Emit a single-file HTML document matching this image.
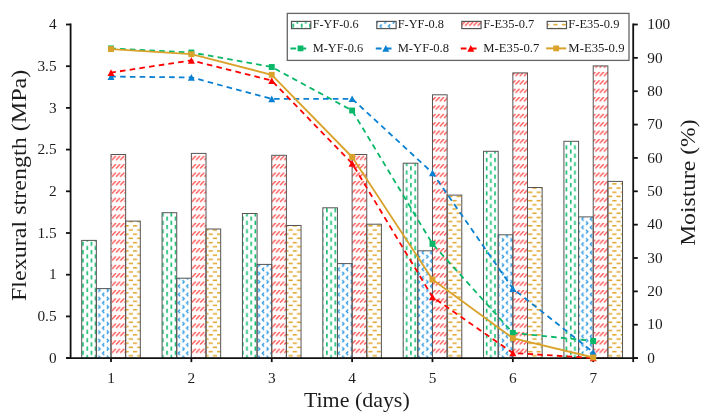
<!DOCTYPE html><html><head><meta charset="utf-8"><style>html,body{margin:0;padding:0;background:#fff;}svg{display:block;will-change:transform;} text{font-family:"Liberation Serif",serif;fill:#1c1c1c;}</style></head><body>
<svg width="711" height="418" viewBox="0 0 711 418">
<defs>
<pattern id="pg" patternUnits="userSpaceOnUse" width="8.409" height="8.386" x="6.519" y="6.896"><rect x="0" y="0" width="1.6" height="4.193" fill="#10BC70"/><rect x="4.205" y="4.193" width="1.6" height="4.193" fill="#10BC70"/></pattern>
<pattern id="pb" patternUnits="userSpaceOnUse" width="8.409" height="8.386" x="0.427" y="7.268"><path d="M2.95 0.35 L1.25 2.10 L2.95 3.85" stroke="#2C98E2" stroke-width="1.35" fill="none"/><path d="M5.46 4.54 L7.16 6.29 L5.46 8.04" stroke="#2C98E2" stroke-width="1.35" fill="none"/></pattern>
<pattern id="pr" patternUnits="userSpaceOnUse" width="4.205" height="8.386" x="2.532" y="4.824"><path d="M0 4.193 L4.205 0 M-4.205 4.193 L0 0 M4.205 4.193 L8.409 0" stroke="#FF5050" stroke-width="1.45" fill="none"/></pattern>
<pattern id="po" patternUnits="userSpaceOnUse" width="8.409" height="8.386" x="6.821" y="7.026"><rect x="0" y="0" width="4.205" height="1.5" fill="#E0A52A"/><rect x="4.205" y="4.193" width="4.205" height="1.5" fill="#E0A52A"/></pattern>
</defs>
<rect x="81.70" y="240.40" width="14.65" height="117.70" fill="url(#pg)" stroke="#555555" stroke-width="1.0"/>
<rect x="96.35" y="288.60" width="14.65" height="69.50" fill="url(#pb)" stroke="#555555" stroke-width="1.0"/>
<rect x="111.00" y="154.50" width="14.65" height="203.60" fill="url(#pr)" stroke="#555555" stroke-width="1.0"/>
<rect x="125.65" y="221.10" width="14.65" height="137.00" fill="url(#po)" stroke="#555555" stroke-width="1.0"/>
<rect x="162.07" y="212.70" width="14.65" height="145.40" fill="url(#pg)" stroke="#555555" stroke-width="1.0"/>
<rect x="176.72" y="278.20" width="14.65" height="79.90" fill="url(#pb)" stroke="#555555" stroke-width="1.0"/>
<rect x="191.37" y="153.40" width="14.65" height="204.70" fill="url(#pr)" stroke="#555555" stroke-width="1.0"/>
<rect x="206.02" y="229.00" width="14.65" height="129.10" fill="url(#po)" stroke="#555555" stroke-width="1.0"/>
<rect x="242.44" y="213.50" width="14.65" height="144.60" fill="url(#pg)" stroke="#555555" stroke-width="1.0"/>
<rect x="257.09" y="264.40" width="14.65" height="93.70" fill="url(#pb)" stroke="#555555" stroke-width="1.0"/>
<rect x="271.74" y="155.30" width="14.65" height="202.80" fill="url(#pr)" stroke="#555555" stroke-width="1.0"/>
<rect x="286.39" y="225.50" width="14.65" height="132.60" fill="url(#po)" stroke="#555555" stroke-width="1.0"/>
<rect x="322.81" y="207.80" width="14.65" height="150.30" fill="url(#pg)" stroke="#555555" stroke-width="1.0"/>
<rect x="337.46" y="263.60" width="14.65" height="94.50" fill="url(#pb)" stroke="#555555" stroke-width="1.0"/>
<rect x="352.11" y="154.50" width="14.65" height="203.60" fill="url(#pr)" stroke="#555555" stroke-width="1.0"/>
<rect x="366.76" y="224.20" width="14.65" height="133.90" fill="url(#po)" stroke="#555555" stroke-width="1.0"/>
<rect x="403.18" y="163.20" width="14.65" height="194.90" fill="url(#pg)" stroke="#555555" stroke-width="1.0"/>
<rect x="417.83" y="250.80" width="14.65" height="107.30" fill="url(#pb)" stroke="#555555" stroke-width="1.0"/>
<rect x="432.48" y="94.80" width="14.65" height="263.30" fill="url(#pr)" stroke="#555555" stroke-width="1.0"/>
<rect x="447.13" y="195.10" width="14.65" height="163.00" fill="url(#po)" stroke="#555555" stroke-width="1.0"/>
<rect x="483.55" y="151.30" width="14.65" height="206.80" fill="url(#pg)" stroke="#555555" stroke-width="1.0"/>
<rect x="498.20" y="234.80" width="14.65" height="123.30" fill="url(#pb)" stroke="#555555" stroke-width="1.0"/>
<rect x="512.85" y="72.90" width="14.65" height="285.20" fill="url(#pr)" stroke="#555555" stroke-width="1.0"/>
<rect x="527.50" y="187.50" width="14.65" height="170.60" fill="url(#po)" stroke="#555555" stroke-width="1.0"/>
<rect x="563.92" y="141.30" width="14.65" height="216.80" fill="url(#pg)" stroke="#555555" stroke-width="1.0"/>
<rect x="578.57" y="216.90" width="14.65" height="141.20" fill="url(#pb)" stroke="#555555" stroke-width="1.0"/>
<rect x="593.22" y="65.90" width="14.65" height="292.20" fill="url(#pr)" stroke="#555555" stroke-width="1.0"/>
<rect x="607.87" y="181.40" width="14.65" height="176.70" fill="url(#po)" stroke="#555555" stroke-width="1.0"/>
<g stroke="#111" stroke-width="1.8" fill="none">
<line x1="70.6" y1="23.6" x2="70.6" y2="358.1"/>
<line x1="633.2" y1="23.6" x2="633.2" y2="358.1"/>
<line x1="66.0" y1="358.1" x2="637.8000000000001" y2="358.1"/>
<line x1="66.0" y1="358.10" x2="70.6" y2="358.10"/>
<line x1="66.0" y1="316.40" x2="70.6" y2="316.40"/>
<line x1="66.0" y1="274.70" x2="70.6" y2="274.70"/>
<line x1="66.0" y1="233.00" x2="70.6" y2="233.00"/>
<line x1="66.0" y1="191.30" x2="70.6" y2="191.30"/>
<line x1="66.0" y1="149.60" x2="70.6" y2="149.60"/>
<line x1="66.0" y1="107.90" x2="70.6" y2="107.90"/>
<line x1="66.0" y1="66.20" x2="70.6" y2="66.20"/>
<line x1="66.0" y1="24.50" x2="70.6" y2="24.50"/>
<line x1="633.2" y1="358.10" x2="637.8000000000001" y2="358.10"/>
<line x1="633.2" y1="324.74" x2="637.8000000000001" y2="324.74"/>
<line x1="633.2" y1="291.38" x2="637.8000000000001" y2="291.38"/>
<line x1="633.2" y1="258.02" x2="637.8000000000001" y2="258.02"/>
<line x1="633.2" y1="224.66" x2="637.8000000000001" y2="224.66"/>
<line x1="633.2" y1="191.30" x2="637.8000000000001" y2="191.30"/>
<line x1="633.2" y1="157.94" x2="637.8000000000001" y2="157.94"/>
<line x1="633.2" y1="124.58" x2="637.8000000000001" y2="124.58"/>
<line x1="633.2" y1="91.22" x2="637.8000000000001" y2="91.22"/>
<line x1="633.2" y1="57.86" x2="637.8000000000001" y2="57.86"/>
<line x1="633.2" y1="24.50" x2="637.8000000000001" y2="24.50"/>
<line x1="111.00" y1="358.1" x2="111.00" y2="362.1"/>
<line x1="191.37" y1="358.1" x2="191.37" y2="362.1"/>
<line x1="271.74" y1="358.1" x2="271.74" y2="362.1"/>
<line x1="352.11" y1="358.1" x2="352.11" y2="362.1"/>
<line x1="432.48" y1="358.1" x2="432.48" y2="362.1"/>
<line x1="512.85" y1="358.1" x2="512.85" y2="362.1"/>
<line x1="593.22" y1="358.1" x2="593.22" y2="362.1"/>
<line x1="633.2" y1="358.1" x2="633.2" y2="362.1"/>
</g>
<polyline points="111.00,48.40 191.37,52.50 271.74,67.00 352.11,110.50 432.48,243.90 512.85,332.90 593.22,341.00" fill="none" stroke="#08B868" stroke-width="1.8" stroke-linejoin="round" stroke-dasharray="5.6 4.2" stroke-dashoffset="0.72"/>
<rect x="108.05" y="45.45" width="5.9" height="5.9" fill="#08B868"/>
<rect x="188.42" y="49.55" width="5.9" height="5.9" fill="#08B868"/>
<rect x="268.79" y="64.05" width="5.9" height="5.9" fill="#08B868"/>
<rect x="349.16" y="107.55" width="5.9" height="5.9" fill="#08B868"/>
<rect x="429.53" y="240.95" width="5.9" height="5.9" fill="#08B868"/>
<rect x="509.90" y="329.95" width="5.9" height="5.9" fill="#08B868"/>
<rect x="590.27" y="338.05" width="5.9" height="5.9" fill="#08B868"/>
<polyline points="111.00,76.60 191.37,77.40 271.74,98.90 352.11,98.80 432.48,172.90 512.85,288.60 593.22,352.20" fill="none" stroke="#0A80D2" stroke-width="1.8" stroke-linejoin="round" stroke-dasharray="5.6 4.2" stroke-dashoffset="0.72"/>
<path d="M111.00 73.30 L114.50 79.90 L107.50 79.90Z" fill="#0A80D2"/>
<path d="M191.37 74.10 L194.87 80.70 L187.87 80.70Z" fill="#0A80D2"/>
<path d="M271.74 95.60 L275.24 102.20 L268.24 102.20Z" fill="#0A80D2"/>
<path d="M352.11 95.50 L355.61 102.10 L348.61 102.10Z" fill="#0A80D2"/>
<path d="M432.48 169.60 L435.98 176.20 L428.98 176.20Z" fill="#0A80D2"/>
<path d="M512.85 285.30 L516.35 291.90 L509.35 291.90Z" fill="#0A80D2"/>
<path d="M593.22 348.90 L596.72 355.50 L589.72 355.50Z" fill="#0A80D2"/>
<polyline points="111.00,72.60 191.37,60.40 271.74,80.60 352.11,163.40 432.48,297.00 512.85,353.00 593.22,358.00" fill="none" stroke="#FF0000" stroke-width="1.8" stroke-linejoin="round" stroke-dasharray="5.6 4.2" stroke-dashoffset="0.72"/>
<path d="M111.00 69.30 L114.50 75.90 L107.50 75.90Z" fill="#FF0000"/>
<path d="M191.37 57.10 L194.87 63.70 L187.87 63.70Z" fill="#FF0000"/>
<path d="M271.74 77.30 L275.24 83.90 L268.24 83.90Z" fill="#FF0000"/>
<path d="M352.11 160.10 L355.61 166.70 L348.61 166.70Z" fill="#FF0000"/>
<path d="M432.48 293.70 L435.98 300.30 L428.98 300.30Z" fill="#FF0000"/>
<path d="M512.85 349.70 L516.35 356.30 L509.35 356.30Z" fill="#FF0000"/>
<path d="M593.22 354.70 L596.72 361.30 L589.72 361.30Z" fill="#FF0000"/>
<polyline points="111.00,49.10 191.37,54.20 271.74,74.80 352.11,157.00 432.48,279.50 512.85,338.20 593.22,357.50" fill="none" stroke="#D9A22A" stroke-width="1.8" stroke-linejoin="round" />
<rect x="108.05" y="46.15" width="5.9" height="5.9" fill="#D9A22A"/>
<rect x="188.42" y="51.25" width="5.9" height="5.9" fill="#D9A22A"/>
<rect x="268.79" y="71.85" width="5.9" height="5.9" fill="#D9A22A"/>
<rect x="349.16" y="154.05" width="5.9" height="5.9" fill="#D9A22A"/>
<rect x="429.53" y="276.55" width="5.9" height="5.9" fill="#D9A22A"/>
<rect x="509.90" y="335.25" width="5.9" height="5.9" fill="#D9A22A"/>
<rect x="590.27" y="354.55" width="5.9" height="5.9" fill="#D9A22A"/>
<text x="56.6" y="362.80" font-size="15.3" text-anchor="end">0</text>
<text x="56.6" y="321.10" font-size="15.3" text-anchor="end">0.5</text>
<text x="56.6" y="279.40" font-size="15.3" text-anchor="end">1</text>
<text x="56.6" y="237.70" font-size="15.3" text-anchor="end">1.5</text>
<text x="56.6" y="196.00" font-size="15.3" text-anchor="end">2</text>
<text x="56.6" y="154.30" font-size="15.3" text-anchor="end">2.5</text>
<text x="56.6" y="112.60" font-size="15.3" text-anchor="end">3</text>
<text x="56.6" y="70.90" font-size="15.3" text-anchor="end">3.5</text>
<text x="56.6" y="29.20" font-size="15.3" text-anchor="end">4</text>
<text x="647.3" y="362.80" font-size="15.3">0</text>
<text x="647.3" y="329.44" font-size="15.3">10</text>
<text x="647.3" y="296.08" font-size="15.3">20</text>
<text x="647.3" y="262.72" font-size="15.3">30</text>
<text x="647.3" y="229.36" font-size="15.3">40</text>
<text x="647.3" y="196.00" font-size="15.3">50</text>
<text x="647.3" y="162.64" font-size="15.3">60</text>
<text x="647.3" y="129.28" font-size="15.3">70</text>
<text x="647.3" y="95.92" font-size="15.3">80</text>
<text x="647.3" y="62.56" font-size="15.3">90</text>
<text x="647.3" y="29.20" font-size="15.3">100</text>
<text x="111.00" y="383" font-size="15.3" text-anchor="middle">1</text>
<text x="191.37" y="383" font-size="15.3" text-anchor="middle">2</text>
<text x="271.74" y="383" font-size="15.3" text-anchor="middle">3</text>
<text x="352.11" y="383" font-size="15.3" text-anchor="middle">4</text>
<text x="432.48" y="383" font-size="15.3" text-anchor="middle">5</text>
<text x="512.85" y="383" font-size="15.3" text-anchor="middle">6</text>
<text x="593.22" y="383" font-size="15.3" text-anchor="middle">7</text>
<text x="303.92" y="407.40" font-size="22" textLength="105.80" lengthAdjust="spacingAndGlyphs">Time (days)</text>
<text transform="translate(25.90 0) rotate(-90)" x="-301.06" y="0" font-size="22" textLength="231.28" lengthAdjust="spacingAndGlyphs">Flexural strength (MPa)</text>
<text transform="translate(695.00 0) rotate(-90)" x="-245.85" y="0" font-size="22" textLength="126.35" lengthAdjust="spacingAndGlyphs">Moisture (%)</text>
<rect x="287.3" y="13.4" width="341.7" height="47" fill="#fff" stroke="#666" stroke-width="1.3"/>
<rect x="291.5" y="21.4" width="19.3" height="7.2" fill="url(#pg)" stroke="#555555" stroke-width="1.2"/>
<text x="312.76" y="27.90" font-size="13.4" textLength="45.81" lengthAdjust="spacingAndGlyphs">F-YF-0.6</text>
<line x1="290.5" y1="48.4" x2="310.5" y2="48.4" stroke="#08B868" stroke-width="2" stroke-dasharray="5.7 4.3"/>
<rect x="297.60" y="45.50" width="5.8" height="5.8" fill="#08B868"/>
<text x="312.66" y="51.90" font-size="13.4" textLength="50.42" lengthAdjust="spacingAndGlyphs">M-YF-0.6</text>
<rect x="376.8" y="21.4" width="19.3" height="7.2" fill="url(#pb)" stroke="#555555" stroke-width="1.2"/>
<text x="397.66" y="27.90" font-size="13.4" textLength="46.31" lengthAdjust="spacingAndGlyphs">F-YF-0.8</text>
<line x1="375.8" y1="48.4" x2="395.8" y2="48.4" stroke="#0A80D2" stroke-width="2" stroke-dasharray="5.7 4.3"/>
<path d="M385.80 45.10 L389.30 51.70 L382.30 51.70Z" fill="#0A80D2"/>
<text x="397.65" y="51.90" font-size="13.4" textLength="51.43" lengthAdjust="spacingAndGlyphs">M-YF-0.8</text>
<rect x="461.8" y="21.4" width="19.3" height="7.2" fill="url(#pr)" stroke="#555555" stroke-width="1.2"/>
<text x="483.36" y="27.90" font-size="13.4" textLength="50.89" lengthAdjust="spacingAndGlyphs">F-E35-0.7</text>
<line x1="460.8" y1="48.4" x2="480.8" y2="48.4" stroke="#FF0000" stroke-width="2" stroke-dasharray="5.7 4.3"/>
<path d="M470.80 45.10 L474.30 51.70 L467.30 51.70Z" fill="#FF0000"/>
<text x="483.35" y="51.90" font-size="13.4" textLength="55.91" lengthAdjust="spacingAndGlyphs">M-E35-0.7</text>
<rect x="547.2" y="21.4" width="19.3" height="7.2" fill="url(#po)" stroke="#555555" stroke-width="1.2"/>
<text x="568.36" y="27.90" font-size="13.4" textLength="51.05" lengthAdjust="spacingAndGlyphs">F-E35-0.9</text>
<line x1="546.2" y1="48.4" x2="566.2" y2="48.4" stroke="#D9A22A" stroke-width="2" />
<rect x="553.30" y="45.50" width="5.8" height="5.8" fill="#D9A22A"/>
<text x="568.35" y="51.90" font-size="13.4" textLength="56.17" lengthAdjust="spacingAndGlyphs">M-E35-0.9</text>
</svg></body></html>
